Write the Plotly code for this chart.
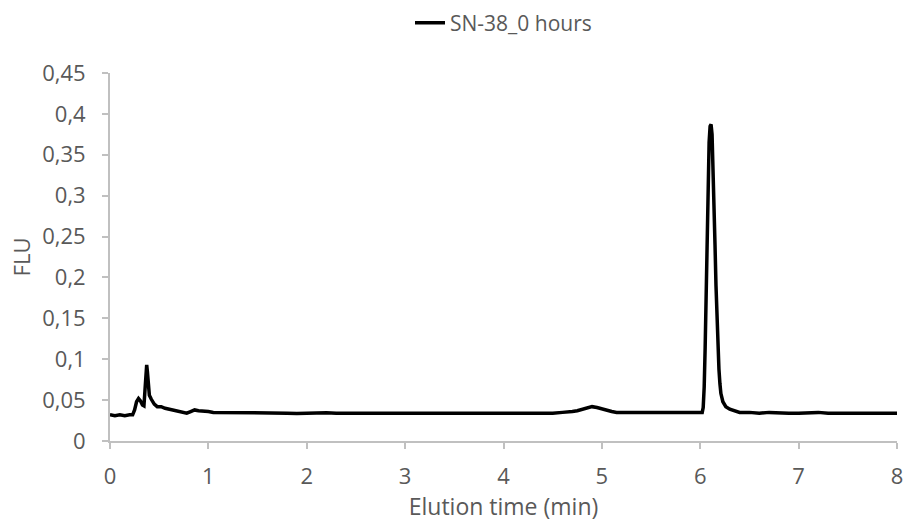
import plotly.graph_objects as go

# Chromatogram trace: elution time (min) and fluorescence signal (FLU)
time_min = [
    0.00, 0.05, 0.10, 0.15, 0.20, 0.23, 0.25, 0.27, 0.29, 0.31, 0.33, 0.345,
    0.355, 0.365, 0.373, 0.38, 0.39, 0.40, 0.42, 0.45, 0.48, 0.52, 0.56, 0.60,
    0.65, 0.70, 0.75, 0.78, 0.82, 0.86, 0.90, 0.95, 1.00, 1.05, 1.10, 1.20,
    1.30, 1.40, 1.50, 1.60, 1.70, 1.80, 1.90, 2.00, 2.10, 2.20, 2.30, 2.40,
    2.50, 2.60, 2.70, 2.80, 2.90, 3.00, 3.10, 3.20, 3.30, 3.40, 3.50, 3.60,
    3.70, 3.80, 3.90, 4.00, 4.10, 4.20, 4.30, 4.40, 4.50, 4.60, 4.65, 4.70,
    4.75, 4.80, 4.85, 4.90, 4.95, 5.00, 5.05, 5.10, 5.15, 5.20, 5.30, 5.40,
    5.50, 5.60, 5.70, 5.80, 5.90, 6.00, 6.02, 6.03, 6.04, 6.05, 6.06, 6.07,
    6.08, 6.09, 6.10, 6.11, 6.12, 6.13, 6.14, 6.15, 6.16, 6.17, 6.18, 6.19,
    6.20, 6.21, 6.23, 6.26, 6.30, 6.35, 6.40, 6.50, 6.60, 6.70, 6.80, 6.90,
    7.00, 7.10, 7.20, 7.30, 7.40, 7.50, 7.60, 7.70, 7.80, 7.90, 8.00,
]
signal_flu = [
    0.032, 0.031, 0.032, 0.031, 0.032, 0.032, 0.038, 0.048, 0.052, 0.049, 0.044, 0.043,
    0.061, 0.085, 0.093, 0.085, 0.066, 0.056, 0.051, 0.045, 0.042, 0.042, 0.040, 0.039,
    0.038, 0.036, 0.035, 0.034, 0.036, 0.038, 0.037, 0.037, 0.036, 0.035, 0.035, 0.034,
    0.0345, 0.034, 0.034, 0.0345, 0.034, 0.034, 0.0335, 0.034, 0.034, 0.0345, 0.034, 0.034,
    0.0335, 0.034, 0.0345, 0.034, 0.034, 0.0335, 0.034, 0.034, 0.034, 0.0345, 0.034, 0.034,
    0.0335, 0.034, 0.034, 0.034, 0.0345, 0.034, 0.034, 0.0345, 0.034, 0.035, 0.035, 0.036,
    0.037, 0.039, 0.041, 0.042, 0.041, 0.039, 0.037, 0.036, 0.035, 0.035, 0.034, 0.034,
    0.034, 0.035, 0.034, 0.034, 0.034, 0.034, 0.035, 0.041, 0.066, 0.115, 0.180, 0.255,
    0.320, 0.365, 0.385, 0.387, 0.375, 0.340, 0.290, 0.240, 0.190, 0.150, 0.115, 0.088,
    0.070, 0.058, 0.048, 0.042, 0.039, 0.037, 0.035, 0.035, 0.034, 0.035, 0.034, 0.034,
    0.034, 0.0345, 0.035, 0.034, 0.034, 0.0345, 0.034, 0.034, 0.0345, 0.034, 0.034,
]
series_name = "SN-38_0 hours"

y_tick_values = [0, 0.05, 0.1, 0.15, 0.2, 0.25, 0.3, 0.35, 0.4, 0.45]
y_tick_labels = ["0", "0,05", "0,1", "0,15", "0,2", "0,25", "0,3", "0,35", "0,4", "0,45"]
x_tick_values = [0, 1, 2, 3, 4, 5, 6, 7, 8]

FONT = "Open Sans"
TEXT_GREY = "#595959"
AXIS_GREY = "#c0c0c0"

fig = go.Figure()
fig.add_trace(go.Scatter(
    x=time_min, y=signal_flu, mode="lines", name=series_name,
    line=dict(color="#000000", width=3.5),
))

fig.update_layout(
    width=904, height=528,
    margin=dict(l=110, r=7, t=73, b=87),
    paper_bgcolor="white", plot_bgcolor="white",
    font=dict(family=FONT, color=TEXT_GREY, size=21),
    showlegend=True,
    legend=dict(
        orientation="h", x=0.5, xanchor="center",
        yref="container", y=0.995, yanchor="top",
        font=dict(family=FONT, size=21, color=TEXT_GREY),
        bgcolor="rgba(0,0,0,0)",
    ),
    xaxis=dict(
        range=[0, 8], tickvals=x_tick_values, automargin=False,
        showgrid=False, zeroline=False,
        showline=True, linecolor=AXIS_GREY, linewidth=1.8,
        ticks="outside", ticklen=6, tickcolor=AXIS_GREY, tickwidth=1.5,
        ticklabelstandoff=9,
        tickfont=dict(family=FONT, size=22, color=TEXT_GREY),
        title=dict(text="Elution time (min)", standoff=10,
                   font=dict(family=FONT, size=23, color=TEXT_GREY)),
    ),
    yaxis=dict(
        range=[0, 0.45], tickvals=y_tick_values, ticktext=y_tick_labels,
        automargin=False,
        showgrid=False, zeroline=False,
        showline=True, linecolor=AXIS_GREY, linewidth=1.8,
        ticks="outside", ticklen=6, tickcolor=AXIS_GREY, tickwidth=1.5,
        ticklabelstandoff=12,
        tickfont=dict(family=FONT, size=22, color=TEXT_GREY),
        title=dict(text="FLU", standoff=6,
                   font=dict(family=FONT, size=22, color=TEXT_GREY)),
    ),
)

fig.write_html("out.html")
